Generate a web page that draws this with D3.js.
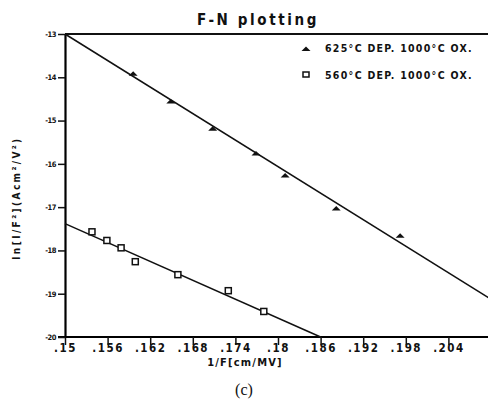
<!DOCTYPE html>
<html><head><meta charset="utf-8">
<script src="https://cdn.jsdelivr.net/npm/d3@7"></script>
<style>
body{margin:0;background:#fff;}
svg{display:block;}
.pl{font-family:"DejaVu Sans Condensed","Liberation Sans Narrow",sans-serif;font-weight:bold;fill:#111;}
</style></head>
<body><svg id="c" width="488" height="401"></svg>
<script>
// Data
const xTicks = [0.15, 0.156, 0.162, 0.168, 0.174, 0.18, 0.186, 0.192, 0.198, 0.204];
const xTickLabels = [".15", ".156", ".162", ".168", ".174", ".18", ".186", ".192", ".198", ".204"];
const yTicks = [-13, -14, -15, -16, -17, -18, -19, -20];
const yTickLabels = ["-13", "-14", "-15", "-16", "-17", "-18", "-19", "-20"];

const seriesNames = ["625°C DEP. 1000°C OX.", "560°C DEP. 1000°C OX."];
// 625°C series (filled triangles)
const triX = [0.1596, 0.1649, 0.1708, 0.1769, 0.1810, 0.1882, 0.1972];
const triY = [-13.92, -14.56, -15.19, -15.76, -16.27, -17.03, -17.66];
// 560°C series (open squares)
const sqX = [0.1538, 0.1559, 0.1579, 0.1599, 0.1659, 0.1730, 0.1780];
const sqY = [-17.57, -17.77, -17.94, -18.26, -18.56, -18.93, -19.41];
// fitted lines
const fitTriX = [0.15, 0.21];
const fitTriY = [-13.0, -19.13];
const fitSqX = [0.15, 0.186];
const fitSqY = [-17.38, -20.0];

const svg = d3.select("#c");
const x = d3.scaleLinear().domain([0.15, 0.21]).range([65, 491]);
const y = d3.scaleLinear().domain([-20, -13]).range([337, 34]);

// frame: top line, left axis, bottom axis
svg.append("line").attr("x1", x(0.15)).attr("x2", 488).attr("y1", y(-13)).attr("y2", y(-13))
  .attr("stroke", "#111").attr("stroke-width", 2);

const xAxis = d3.axisBottom(x).tickValues(xTicks).tickFormat((d, i) => xTickLabels[i]).tickSize(8).tickSizeOuter(0);
const gx = svg.append("g").attr("transform", `translate(0,${y(-20)})`).call(xAxis);
gx.select(".domain").attr("stroke-width", 2.2).attr("d", `M${x(0.15) - 7},0H488`);
gx.selectAll(".tick line").attr("stroke-width", 1.5).attr("stroke", "#111");
gx.selectAll(".tick text").attr("class", "pl").attr("font-size", 11.5).attr("dy", "0.55em").attr("y", 9).style("letter-spacing", "1.5px");

const yAxis = d3.axisLeft(y).tickValues(yTicks).tickFormat((d, i) => yTickLabels[i]).tickSize(7).tickSizeOuter(0);
const gy = svg.append("g").attr("transform", `translate(${x(0.15)},0)`).call(yAxis);
gy.select(".domain").attr("stroke-width", 2.2);
gy.selectAll(".tick line").attr("stroke-width", 1.5).attr("stroke", "#111");
gy.selectAll(".tick text").attr("class", "pl").attr("font-size", 7.5).attr("x", -9).style("letter-spacing", "-0.5px");

// fit lines
const line = d3.line().x(d => x(d[0])).y(d => y(d[1]));
svg.append("path").datum(fitTriX.map((v, i) => [v, fitTriY[i]])).attr("d", line)
  .attr("fill", "none").attr("stroke", "#111").attr("stroke-width", 1.5);
svg.append("path").datum(fitSqX.map((v, i) => [v, fitSqY[i]])).attr("d", line)
  .attr("fill", "none").attr("stroke", "#111").attr("stroke-width", 1.5);

// markers
const triPath = "M-4.5,2L4.5,2L0,-2.5Z";
svg.selectAll(".tri").data(triX.map((v, i) => [v, triY[i]])).enter().append("path")
  .attr("d", triPath).attr("transform", d => `translate(${x(d[0])},${y(d[1])})`).attr("fill", "#111");
svg.selectAll(".sq").data(sqX.map((v, i) => [v, sqY[i]])).enter().append("rect")
  .attr("x", d => x(d[0]) - 3).attr("y", d => y(d[1]) - 3).attr("width", 6).attr("height", 6)
  .attr("fill", "#fff").attr("stroke", "#111").attr("stroke-width", 1.5);

// legend
svg.append("path").attr("d", triPath).attr("transform", "translate(306,49)").attr("fill", "#111");
svg.append("rect").attr("x", 303).attr("y", 72).attr("width", 6).attr("height", 5)
  .attr("fill", "#fff").attr("stroke", "#111").attr("stroke-width", 1.5);
seriesNames.forEach((s, i) => {
  svg.append("text").attr("class", "pl").attr("x", 325).attr("y", 52 + i * 27)
    .attr("font-size", 10.5).style("letter-spacing", "1.3px").text(s);
});

// title
svg.append("text").attr("class", "pl").attr("x", 258).attr("y", 25).attr("text-anchor", "middle")
  .attr("font-size", 15).style("letter-spacing", "2.6px").text("F-N plotting");

// axis titles
svg.append("text").attr("class", "pl").attr("x", 245).attr("y", 366).attr("text-anchor", "middle")
  .attr("font-size", 11).style("letter-spacing", "1.2px").text("1/F[cm/MV]");
svg.append("text").attr("class", "pl").attr("transform", "translate(20,198) rotate(-90)").attr("text-anchor", "middle")
  .attr("font-size", 10).style("letter-spacing", "2.4px").text("ln[I/F²](Acm²/V²)");

svg.append("text").attr("x", 244).attr("y", 395).attr("text-anchor", "middle")
  .attr("font-family", "Liberation Serif, serif").attr("font-size", 16).attr("fill", "#111").text("(c)");
</script></body></html>
